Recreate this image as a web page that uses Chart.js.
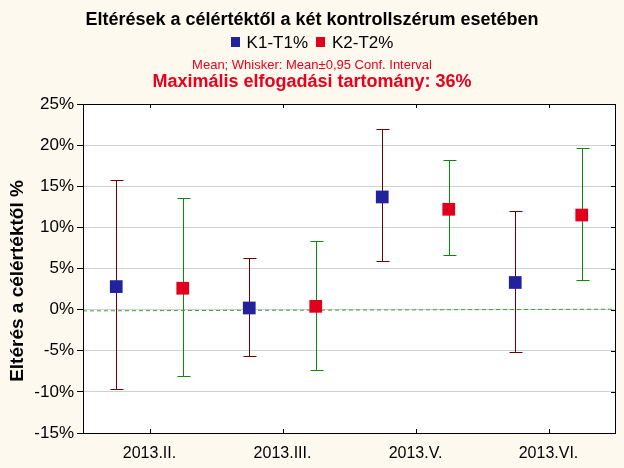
<!DOCTYPE html>
<html>
<head>
  <meta name="viewport" content="width=device-width, initial-scale=1.0">
  <title>Eltérések a célértéktől</title>
  <script src="https://cdn.jsdelivr.net/npm/chart.js"></script>
  <style>
    body {
      margin: 0;
      padding: 0;
      background: #fdf9ee;
    }
    #wrap {
      width: 624px;
      height: 468px;
    }
  </style>
</head>
<body>
  <div id="wrap"><canvas id="myChart" width="624" height="468"></canvas></div>

  <script>
    // adatok
    const categories = ['2013.II.', '2013.III.', '2013.V.', '2013.VI.'];
    const k1Mean = [2.8, 0.2, 13.7, 3.3];
    const k1Low = [-9.6, -5.6, 5.9, -5.2];
    const k1High = [15.7, 6.3, 21.9, 12.0];
    const k2Mean = [2.6, 0.4, 12.2, 11.5];
    const k2Low = [-8.1, -7.4, 6.7, 3.6];
    const k2High = [13.6, 8.3, 18.2, 19.7];
    const refLine = [-0.15, 0.05]; // szaggatott zöld vonal a két szélén
    const yTicks = [-15, -10, -5, 0, 5, 10, 15, 20, 25];

    const BLUE = '#22229c';
    const RED = '#e0001e';
    const MAROON = '#6b0000';
    const GREEN = '#0a8a0a';
    const TXT_RED = '#e8001c';
    const FONT = '"Liberation Sans", Arial, sans-serif';

    const pts = (vals, off) => vals.map((v, i) => ({ x: i + 1 + off, y: v }));

    const decor = {
      id: 'decor',
      beforeDraw(chart) {
        const { ctx, chartArea: a } = chart;
        ctx.save();
        ctx.fillStyle = '#fdf9ee';
        ctx.fillRect(0, 0, chart.width, chart.height);
        ctx.fillStyle = '#ffffff';
        ctx.fillRect(a.left, a.top, a.right - a.left, a.bottom - a.top);
        ctx.restore();
      },
      beforeDatasetsDraw(chart) {
        const { ctx, scales } = chart;
        const xs = scales.x, ys = scales.y;
        const whisk = (lo, hi, off, color) => {
          ctx.strokeStyle = color;
          ctx.lineWidth = 1;
          lo.forEach((l, i) => {
            const x = Math.round(xs.getPixelForValue(i + 1 + off)) + 0.5;
            const y1 = Math.round(ys.getPixelForValue(l)) + 0.5;
            const y2 = Math.round(ys.getPixelForValue(hi[i])) + 0.5;
            ctx.beginPath();
            ctx.moveTo(x, y1); ctx.lineTo(x, y2);
            ctx.moveTo(x - 6, y1); ctx.lineTo(x + 7, y1);
            ctx.moveTo(x - 6, y2); ctx.lineTo(x + 7, y2);
            ctx.stroke();
          });
        };
        ctx.save();
        whisk(k1Low, k1High, -0.25, MAROON);
        whisk(k2Low, k2High, 0.25, GREEN);
        ctx.restore();
      },
      afterDraw(chart) {
        const { ctx, chartArea: a, scales } = chart;
        ctx.save();
        // keret
        ctx.strokeStyle = '#000';
        ctx.lineWidth = 1;
        ctx.strokeRect(Math.round(a.left) + 0.5, Math.round(a.top) + 0.5,
          Math.round(a.right - a.left), Math.round(a.bottom - a.top));
        // belső jelölők jobb oldalon, fent és lent
        ctx.beginPath();
        yTicks.forEach(v => {
          const y = Math.round(scales.y.getPixelForValue(v)) + 0.5;
          ctx.moveTo(a.right - 4, y); ctx.lineTo(a.right, y);
        });
        categories.forEach((c, i) => {
          const x = Math.round(scales.x.getPixelForValue(i + 1)) + 0.5;
          ctx.moveTo(x, a.top); ctx.lineTo(x, a.top + 4);
          ctx.moveTo(x, a.bottom); ctx.lineTo(x, a.bottom - 4);
        });
        ctx.stroke();

        // feliratok
        const cx = 312;
        ctx.textAlign = 'center';
        ctx.textBaseline = 'alphabetic';
        ctx.fillStyle = '#000';
        ctx.font = 'bold 18px ' + FONT;
        ctx.fillText('Eltérések a célértéktől a két kontrollszérum esetében', cx, 25);

        // jelmagyarázat
        ctx.font = '17px ' + FONT;
        const items = [['K1-T1%', BLUE], ['K2-T2%', RED]];
        const sq = 9, gap = 7, sep = 8;
        let total = 0;
        items.forEach(([t], i) => { total += sq + gap + ctx.measureText(t).width + (i ? sep : 0); });
        let x = cx - total / 2;
        ctx.textAlign = 'left';
        items.forEach(([t, col], i) => {
          if (i) x += sep;
          ctx.fillStyle = col;
          ctx.fillRect(Math.round(x), 37, sq, 10);
          x += sq + gap;
          ctx.fillStyle = '#000';
          ctx.fillText(t, x, 48);
          x += ctx.measureText(t).width;
        });

        ctx.textAlign = 'center';
        ctx.fillStyle = TXT_RED;
        ctx.font = '13px ' + FONT;
        ctx.fillText('Mean; Whisker: Mean±0,95 Conf. Interval', cx, 69);
        ctx.font = 'bold 18px ' + FONT;
        ctx.fillText('Maximális elfogadási tartomány: 36%', cx, 87);

        // y tengely címe
        ctx.save();
        ctx.translate(23, 281);
        ctx.rotate(-Math.PI / 2);
        ctx.fillStyle = '#000';
        ctx.font = 'bold 19px ' + FONT;
        ctx.fillText('Eltérés a célértéktől %', 0, 0);
        ctx.restore();
        ctx.restore();
      }
    };

    const ctx = document.getElementById('myChart').getContext('2d');
    const chart = new Chart(ctx, {
      type: 'scatter',
      data: {
        datasets: [
          {
            label: 'ref',
            data: [{ x: 0.5, y: refLine[0] }, { x: 4.5, y: refLine[1] }],
            showLine: true,
            borderColor: '#3f9f3f',
            borderWidth: 1,
            borderDash: [4, 3],
            pointRadius: 0,
            order: 3
          },
          {
            label: 'K1-T1%',
            data: pts(k1Mean, -0.25),
            backgroundColor: BLUE,
            borderColor: BLUE,
            borderWidth: 0,
            pointStyle: 'rect',
            pointRadius: 9,
            order: 1
          },
          {
            label: 'K2-T2%',
            data: pts(k2Mean, 0.25),
            backgroundColor: RED,
            borderColor: RED,
            borderWidth: 0,
            pointStyle: 'rect',
            pointRadius: 9,
            order: 1
          }
        ]
      },
      options: {
        responsive: false,
        animation: false,
        layout: { padding: { top: 104, right: 7, left: 0, bottom: 0 } },
        plugins: {
          legend: { display: false },
          tooltip: { enabled: false }
        },
        scales: {
          x: {
            type: 'linear',
            min: 0.5,
            max: 4.5,
            afterBuildTicks: s => { s.ticks = categories.map((c, i) => ({ value: i + 1 })); },
            afterFit: s => { s.height = 35; },
            grid: { display: false },
            border: { display: false },
            ticks: {
              callback: v => categories[v - 1],
              color: '#000',
              font: { family: FONT, size: 16 },
              padding: 3,
              maxRotation: 0,
              autoSkip: false
            }
          },
          y: {
            min: -15,
            max: 25,
            afterBuildTicks: s => { s.ticks = yTicks.map(v => ({ value: v })); },
            afterFit: s => { s.width = 83; },
            grid: { color: '#d0d0d0', tickColor: '#000', tickLength: 6, lineWidth: 1 },
            border: { display: false },
            ticks: {
              callback: v => v + '%',
              color: '#000',
              font: { family: FONT, size: 17 },
              padding: 3
            }
          }
        }
      },
      plugins: [decor]
    });
  </script>
</body>
</html>
